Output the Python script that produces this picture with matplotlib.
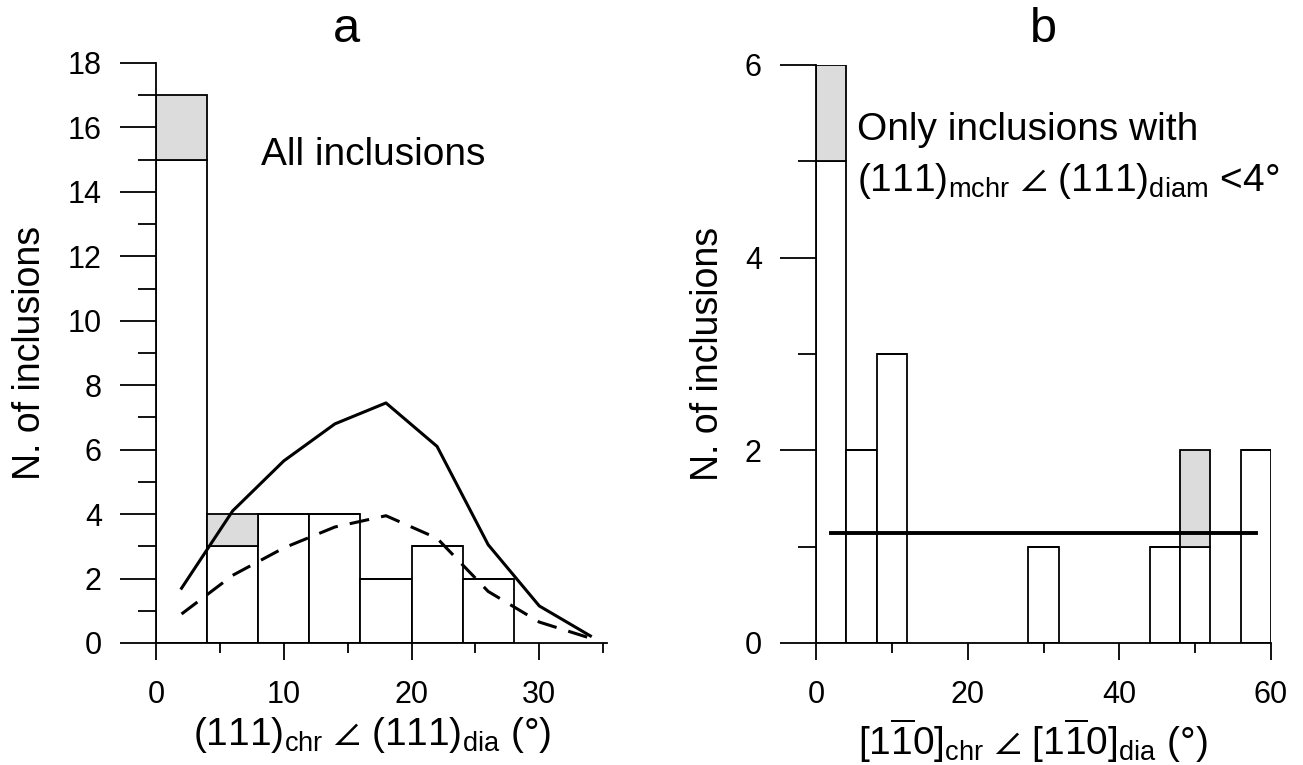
import matplotlib
matplotlib.use('Agg')
import matplotlib.pyplot as plt
from matplotlib.ticker import MultipleLocator

plt.rcParams['font.family'] = ['Liberation Sans', 'DejaVu Sans']
plt.rcParams['mathtext.fontset'] = 'custom'
plt.rcParams['mathtext.rm'] = 'Liberation Sans'
plt.rcParams['mathtext.it'] = 'Liberation Sans:italic'
plt.rcParams['mathtext.bf'] = 'Liberation Sans:bold'
plt.rcParams['mathtext.fallback'] = 'stix'

# panel a: histogram (bin left edges, width 4) + two model curves
bins_a = [0, 4, 8, 12, 16, 20, 24]
white_a = [15, 3, 4, 4, 2, 3, 2]
grey_a = [2, 1, 0, 0, 0, 0, 0]
curve_x = [2, 6, 10, 14, 18, 22, 26, 30, 34]
solid_a = [1.7, 4.1, 5.65, 6.8, 7.45, 6.1, 3.05, 1.15, 0.22]
dashed_a = [0.9, 2.1, 2.95, 3.6, 3.95, 3.25, 1.6, 0.65, 0.15]

# panel b: histogram + flat (random) level
bins_b = [0, 4, 8, 28, 44, 48, 56]
white_b = [5, 2, 3, 1, 1, 1, 2]
grey_b = [1, 0, 0, 0, 0, 1, 0]
flat_x = [2, 58]
flat_b = [1.14, 1.14]

GREY = '#dcdcdc'
LW = 1.3

fig = plt.figure(figsize=(13.03, 7.65), dpi=100)
ax_a = fig.add_axes([156 / 1303, 122 / 765, 451 / 1303, 580 / 765])
ax_b = fig.add_axes([816 / 1303, 122 / 765, 455 / 1303, 578 / 765])


def style_axes(ax):
    for s in ['top', 'right']:
        ax.spines[s].set_visible(False)
    for s in ['left', 'bottom']:
        ax.spines[s].set_linewidth(LW)
    ax.tick_params(axis='y', which='major', direction='out', length=26, width=LW, pad=13, labelsize=22)
    ax.tick_params(axis='y', which='minor', direction='out', length=13, width=LW)
    ax.tick_params(axis='x', which='major', direction='out', length=12.5, width=LW, pad=14, labelsize=22)
    ax.tick_params(axis='x', which='minor', direction='out', length=7, width=LW)


# ---- panel a
ax_a.bar(bins_a, white_a, width=4, align='edge', color='white', edgecolor='black', linewidth=LW, zorder=2)
ax_a.bar(bins_a, grey_a, width=4, bottom=white_a, align='edge', color=GREY, edgecolor='black',
         linewidth=LW, zorder=2)
ax_a.plot(curve_x, solid_a, color='black', lw=2.2, zorder=3)
ax_a.plot(curve_x, dashed_a, color='black', lw=2.2, dashes=(6.5, 4), zorder=3)
ax_a.set_xlim(0, 35.3)
ax_a.set_ylim(0, 18)
ax_a.xaxis.set_major_locator(MultipleLocator(10))
ax_a.xaxis.set_minor_locator(MultipleLocator(5))
ax_a.yaxis.set_major_locator(MultipleLocator(2))
ax_a.yaxis.set_minor_locator(MultipleLocator(1))
style_axes(ax_a)
ax_a.text(8.2, 15.15, 'All inclusions', fontsize=28, va='center')
ax_a.set_ylabel('N. of inclusions', fontsize=27, va='center')
ax_a.yaxis.set_label_coords((30 - 156) / 451, 0.5)
ax_a.set_xlabel(r'$\mathrm{(111)_{chr}\ \angle\ (111)_{dia}\ (°)}$', fontsize=28, va='center')
ax_a.xaxis.set_label_coords(0.48, (643 - 735) / 580)

# ---- panel b
ax_b.bar(bins_b, white_b, width=4, align='edge', color='white', edgecolor='black', linewidth=LW, zorder=2)
ax_b.bar(bins_b, grey_b, width=4, bottom=white_b, align='edge', color=GREY, edgecolor='black',
         linewidth=LW, zorder=2)
ax_b.plot(flat_x, flat_b, color='black', lw=2.8, zorder=3)
ax_b.set_xlim(0, 60)
ax_b.set_ylim(0, 6)
ax_b.xaxis.set_major_locator(MultipleLocator(20))
ax_b.xaxis.set_minor_locator(MultipleLocator(10))
ax_b.yaxis.set_major_locator(MultipleLocator(2))
ax_b.yaxis.set_minor_locator(MultipleLocator(1))
style_axes(ax_b)
ax_b.text(5.4, 5.33, 'Only inclusions with', fontsize=28, va='center')
ax_b.text(5.4, 4.8, r'$\mathrm{(111)_{mchr}\ \angle\ (111)_{diam}\ }$<4°', fontsize=28, va='center')
ax_b.set_ylabel('N. of inclusions', fontsize=27, va='center')
ax_b.yaxis.set_label_coords((708 - 816) / 455, 0.5)
ax_b.set_xlabel(r'$\mathrm{[1\overline{1}0]_{chr}\ \angle\ [1\overline{1}0]_{dia}\ (°)}$', fontsize=28, va='center')
ax_b.xaxis.set_label_coords(0.477, (643 - 741) / 578)

fig.text(346 / 1303, 1 - 30 / 765, 'a', fontsize=35, ha='center', va='center')
fig.text(1043 / 1303, 1 - 30 / 765, 'b', fontsize=35, ha='center', va='center')

fig.savefig('out.png', dpi=100)
